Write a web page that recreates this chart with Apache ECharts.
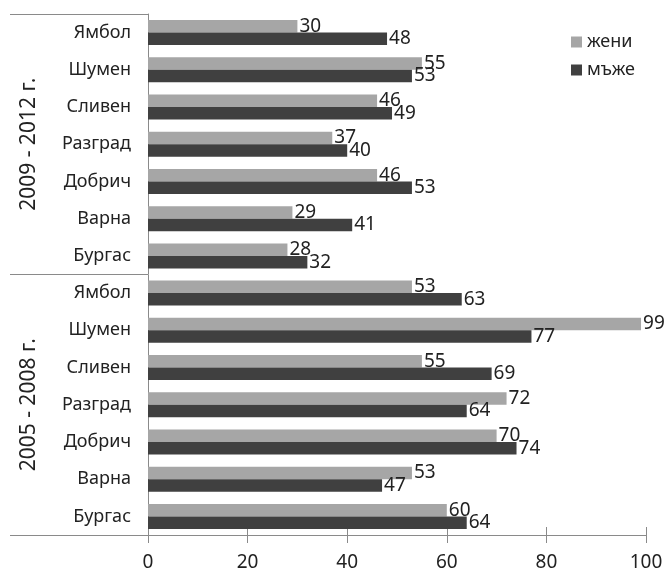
<!DOCTYPE html>
<html lang="bg" style="height: 100%">
<head>
  <meta charset="utf-8">
</head>
<body style="height: 100%; margin: 0; background: #fff">
  <div id="container" style="width: 667px; height: 570px"></div>
  <script src="https://cdn.jsdelivr.net/npm/echarts@6/dist/echarts.min.js"></script>
  <script type="text/javascript">
    // bottom-to-top order (ECharts puts the first category at the bottom)
    var cities = ['Бургас', 'Варна', 'Добрич', 'Разград', 'Сливен', 'Шумен', 'Ямбол'];
    var periods = ['2005 - 2008 г.', '2009 - 2012 г.'];
    var categories = cities.concat(cities);

    // 2005-2008 first, then 2009-2012
    var women = [60, 53, 70, 72, 55, 99, 53, 28, 29, 46, 37, 46, 55, 30];
    var men = [64, 47, 74, 64, 69, 77, 63, 32, 41, 53, 40, 49, 53, 48];

    var font = 'Noto Sans';
    var txt = '#222';
    var lineCol = '#8a8a8a';

    var dom = document.getElementById('container');
    var myChart = echarts.init(dom, null, { renderer: 'canvas' });

    var option = {
      animation: false,
      textStyle: { fontFamily: font },
      legend: {
        data: ['жени', 'мъже'],
        orient: 'vertical',
        left: 566,
        top: 28,
        icon: 'rect',
        itemWidth: 11,
        itemHeight: 11,
        itemGap: 10,
        textStyle: { fontSize: 18, color: txt, fontFamily: font }
      },
      grid: { left: 148, right: 21, top: 14, bottom: 35, outerBoundsMode: 'none' },
      xAxis: [
        {
          type: 'value',
          min: 0,
          max: 100,
          interval: 20,
          splitLine: { show: false },
          axisLine: { show: true, lineStyle: { color: lineCol } },
          axisTick: { show: true, length: 8, lineStyle: { color: lineCol } },
          axisLabel: { fontSize: 19, color: txt, margin: 18, fontFamily: font }
        },
        {
          // inner half of the crossing ticks
          type: 'value',
          position: 'bottom',
          min: 0,
          max: 100,
          interval: 20,
          splitLine: { show: false },
          axisLine: { show: false },
          axisTick: { show: true, inside: true, length: 8, lineStyle: { color: lineCol } },
          axisLabel: { show: false }
        }
      ],
      yAxis: [
        {
          type: 'category',
          data: categories,
          axisLine: { show: true, lineStyle: { color: lineCol } },
          axisTick: { show: false },
          axisLabel: { fontSize: 18, color: txt, margin: 17, fontFamily: font }
        },
        {
          // period groups: long ticks act as the separators on the left
          type: 'category',
          data: periods,
          position: 'left',
          offset: 0,
          axisLine: { show: false },
          axisTick: { show: true, length: 138, lineStyle: { color: lineCol } },
          axisLabel: { rotate: 90, margin: 108, fontSize: 21, color: txt, fontFamily: font }
        }
      ],
      series: [
        {
          name: 'жени',
          type: 'bar',
          data: women,
          barWidth: 12.5,
          barGap: '0%',
          itemStyle: { color: '#a6a6a6' },
          label: { show: true, position: 'right', distance: 2, fontSize: 19, color: txt, fontFamily: font }
        },
        {
          name: 'мъже',
          type: 'bar',
          data: men,
          barWidth: 12.5,
          barGap: '0%',
          itemStyle: { color: '#404040' },
          label: { show: true, position: 'right', distance: 2, fontSize: 19, color: txt, fontFamily: font }
        }
      ]
    };

    myChart.setOption(option);
    window.addEventListener('resize', myChart.resize);
  </script>
</body>
</html>
